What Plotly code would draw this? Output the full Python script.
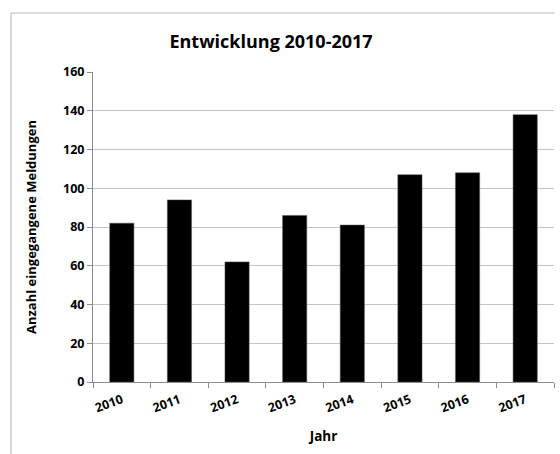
import plotly.graph_objects as go

years = ["2010", "2011", "2012", "2013", "2014", "2015", "2016", "2017"]
meldungen = [82, 94, 62, 86, 81, 107, 108, 138]
y_ticks = [0, 20, 40, 60, 80, 100, 120, 140, 160]

W, H = 560, 454
L, R, T, B = 93, 6, 72, 72
pw = W - L - R
ph = H - T - B

font_family = "Open Sans, Liberation Sans, sans-serif"

fig = go.Figure(
    go.Bar(
        x=years,
        y=meldungen,
        marker=dict(color="black", line=dict(color="#555555", width=0.5)),
    )
)

# outer chart frame (top and left edges visible)
fx0 = (11 - L) / pw
fy1 = 1 + (T - 13) / ph
fig.add_shape(type="line", xref="paper", yref="paper",
              x0=fx0, x1=1.002, y0=fy1, y1=fy1,
              line=dict(color="#c0c0c0", width=1.2))
fig.add_shape(type="line", xref="paper", yref="paper",
              x0=fx0, x1=fx0, y0=fy1, y1=-B / ph - 0.01,
              line=dict(color="#c0c0c0", width=1.2))

fig.update_layout(
    width=W, height=H,
    margin=dict(l=L, r=R, t=T, b=B, autoexpand=False),
    paper_bgcolor="white",
    plot_bgcolor="white",
    bargap=0.58,
    showlegend=False,
    font=dict(family=font_family, color="black"),
    title=dict(
        text="<b>Entwicklung 2010-2017</b>",
        x=0.484, xref="container", xanchor="center",
        y=1 - 42 / H, yref="container", yanchor="middle",
        font=dict(size=18, family=font_family, color="black"),
    ),
    xaxis=dict(
        type="category",
        automargin=False,
        tickson="boundaries",
        ticks="outside", ticklen=5, tickcolor="#8c8c8c",
        showline=True, linecolor="#8c8c8c", linewidth=1,
        tickangle=-20,
        ticklabelstandoff=5,
        tickfont=dict(size=12.5, family=font_family, weight="bold"),
        title=dict(text="<b>Jahr</b>", font=dict(size=13.5), standoff=16),
        showgrid=False,
    ),
    yaxis=dict(
        range=[0, 160],
        automargin=False,
        tickvals=y_ticks,
        ticks="outside", ticklen=5, tickcolor="#8c8c8c",
        showline=True, linecolor="#8c8c8c", linewidth=1,
        showgrid=True, gridcolor="#c4c4c4", gridwidth=1,
        zeroline=False,
        tickfont=dict(size=12.5, family=font_family, weight="bold"),
        title=dict(text="<b>Anzahl eingegangene Meldungen</b>", font=dict(size=13), standoff=23),
    ),
)

fig.write_html(
    "out.html",
    config={"displayModeBar": False},
    post_script="document.body.style.margin='0';document.body.style.overflow='hidden';",
)
